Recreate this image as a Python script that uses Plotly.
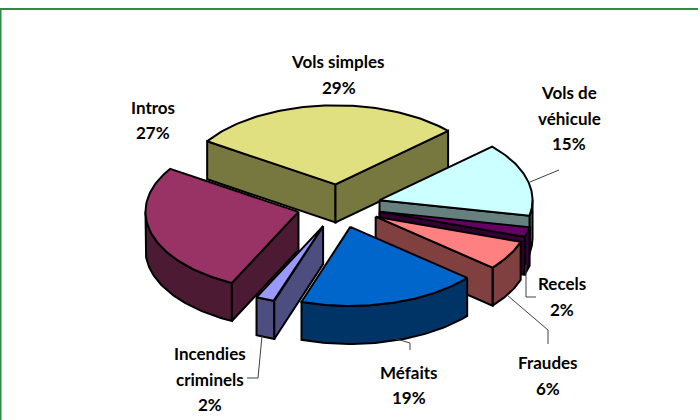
import numpy as np
import plotly.graph_objects as go

# clockwise order, starting from the first slice
categories = ["Vols simples", "Vols de véhicule", "Recels", "Fraudes", "Méfaits",
              "Incendies criminels", "Intros"]
values = [29, 15, 2, 6, 19, 2, 27]
top_colors = ["#E0E080", "#CCFFFF", "#660066", "#FF8080", "#0066CC", "#9999FF", "#993366"]
side_colors = ["#777740", "#668080", "#330033", "#804040", "#003366", "#4D4D80", "#4D1A33"]

label_lines = [["Vols simples", "29%"], ["Vols de", "véhicule", "15%"], ["Recels", "2%"],
               ["Fraudes", "6%"], ["Méfaits", "19%"], ["Incendies", "criminels", "2%"],
               ["Intros", "27%"]]
label_x = [[338, 339], [569, 569, 569], [562, 562], [548, 548], [409, 409],
           [210, 210, 210], [153, 153]]
label_y = [[61, 87], [92, 118, 143], [283, 309], [362, 388], [372, 397],
           [353, 379, 404], [107, 132]]
leaders = [[(530, 182), (559, 170)],
           [(526, 265), (526, 297), (536, 297)],
           [(507, 295), (548, 330), (548, 344)],
           [(393, 338), (410, 343), (410, 350)],
           [(262, 336), (258, 378), (247, 378)]]

CX, CY = 339, 206
RX, RY = 153, 79
DEPTH = 38
EXPLODE = 0.275
START = -57
# back to front
DRAW_ORDER = [0, 1, 6, 2, 3, 5, 4]

fig = go.Figure()


def point(cx, cy, deg):
    a = np.radians(deg)
    return cx + RX * np.sin(a), cy - RY * np.cos(a)


def poly(xs, ys, color):
    fig.add_trace(go.Scatter(x=list(xs) + [xs[0]], y=list(ys) + [ys[0]], mode="lines",
                             fill="toself", fillcolor=color,
                             line=dict(color="#000000", width=2),
                             hoverinfo="skip", showlegend=False))


edges = START + np.cumsum([0] + values) * 3.6
for i in DRAW_ORDER:
    a0, a1 = edges[i], edges[i + 1]
    mid = np.radians((a0 + a1) / 2)
    ox = CX + EXPLODE * RX * np.sin(mid)
    oy = CY - EXPLODE * RY * np.cos(mid)

    # outer wall, only the part turned to the viewer
    w0, w1 = max(a0, 90), min(a1, 270)
    if w1 > w0:
        xa, ya = point(ox, oy, np.linspace(w0, w1, 50))
        poly(np.r_[xa, xa[::-1]], np.r_[ya, ya[::-1] + DEPTH], side_colors[i])
    # cut faces
    for ang, visible in ((a0, np.sin(np.radians(a0)) < 0), (a1, np.sin(np.radians(a1)) > 0)):
        if visible:
            ex, ey = point(ox, oy, ang)
            poly([ox, ex, ex, ox], [oy, ey, ey + DEPTH, oy + DEPTH], side_colors[i])
    # top
    xa, ya = point(ox, oy, np.linspace(a0, a1, 80))
    poly(np.r_[ox, xa], np.r_[oy, ya], top_colors[i])

for line in leaders:
    fig.add_trace(go.Scatter(x=[p[0] for p in line], y=[p[1] for p in line], mode="lines",
                             line=dict(color="#404040", width=1),
                             hoverinfo="skip", showlegend=False))

for lines, xs, ys in zip(label_lines, label_x, label_y):
    for text, x, y in zip(lines, xs, ys):
        fig.add_annotation(x=x, y=y, text=f"<b>{text}</b>", showarrow=False,
                           font=dict(family="Lato", size=17, color="#000000"))

fig.update_layout(width=700, height=420, margin=dict(l=0, r=0, t=0, b=0),
                  paper_bgcolor="#FFFFFF", plot_bgcolor="#FFFFFF", showlegend=False,
                  xaxis=dict(range=[0, 700], visible=False, fixedrange=True),
                  yaxis=dict(range=[420, 0], visible=False, fixedrange=True),
                  shapes=[dict(type="line", x0=0, x1=698, y0=9, y1=9,
                               line=dict(color="#2E8B47", width=2)),
                          dict(type="line", x0=0.5, x1=0.5, y0=8, y1=420,
                               line=dict(color="#2E8B47", width=2))])

# page margin would push the chart 8px in
fig.write_html("out.html", config=dict(displayModeBar=False),
               post_script="document.body.style.margin='0';document.body.style.overflow='hidden';")
